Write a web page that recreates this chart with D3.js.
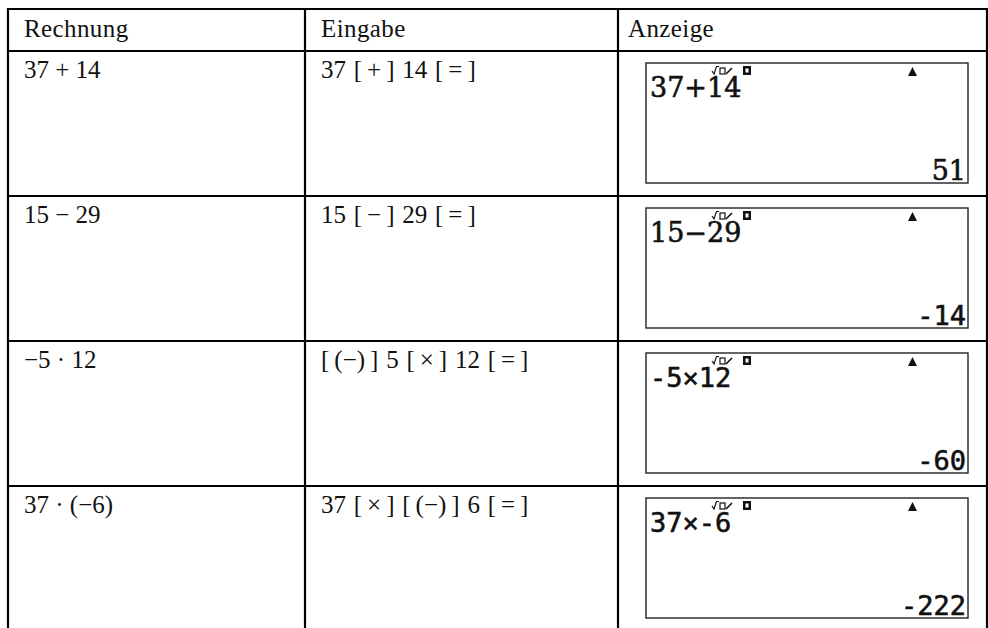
<!DOCTYPE html>
<html>
<head>
<meta charset="utf-8">
<script src="https://cdn.jsdelivr.net/npm/d3@7"></script>
<style>
  body { margin: 0; background: #fff; }
  svg { display: block; }
</style>
</head>
<body>
<svg id="chart"></svg>
<script>
// Table content
const headers = ["Rechnung", "Eingabe", "Anzeige"];
const rechnung = ["37 + 14", "15 − 29", "−5 · 12", "37 · (−6)"];
const eingabe = ["37 [+] 14 [=]", "15 [−] 29 [=]", "[(−)] 5 [×] 12 [=]", "37 [×] [(−)] 6 [=]"];
const anzeigeTerm = ["37+14", "15−29", "-5×12", "37×-6"];
const anzeigeErgebnis = ["51", "-14", "-60", "-222"];

// calculator font per row (screenshots differ a bit)
const termFont = ["DejaVu Serif", "DejaVu Serif", "DejaVu Sans Mono", "DejaVu Sans Mono"];
const resultFont = ["DejaVu Serif", "DejaVu Sans Mono", "DejaVu Sans Mono", "DejaVu Sans Mono"];

const W = 988, H = 628;
const colEdges = [8, 305, 618, 987];
const textPad = [16, 16, 10];
const tableTop = 9, headBottom = 51;

const svg = d3.select("#chart")
  .attr("width", W)
  .attr("height", H);

// row scale
const y = d3.scaleLinear()
  .domain([0, rechnung.length])
  .range([headBottom, headBottom + 145 * rechnung.length]);

const grid = svg.append("g")
  .attr("stroke", "#000")
  .attr("stroke-width", 2.2);

// horizontal lines
const hLines = [tableTop].concat(d3.range(rechnung.length).map(i => y(i)));
grid.selectAll(".h")
  .data(hLines)
  .enter()
  .append("line")
  .attr("x1", colEdges[0] - 1)
  .attr("x2", colEdges[3] + 1)
  .attr("y1", d => d)
  .attr("y2", d => d);

// vertical lines
grid.selectAll(".v")
  .data(colEdges)
  .enter()
  .append("line")
  .attr("x1", d => d)
  .attr("x2", d => d)
  .attr("y1", tableTop - 1)
  .attr("y2", H + 5);

const serif = "'Liberation Serif', 'Times New Roman', serif";

// header
svg.selectAll(".head")
  .data(headers)
  .enter()
  .append("text")
  .attr("x", (d, i) => colEdges[i] + textPad[i])
  .attr("y", tableTop + 28)
  .style("font-family", serif)
  .style("font-size", "25px")
  .style("letter-spacing", "0.4px")
  .style("fill", "#111")
  .text(d => d);

// Rechnung column
svg.selectAll(".rechnung")
  .data(rechnung)
  .enter()
  .append("text")
  .attr("x", colEdges[0] + textPad[0])
  .attr("y", (d, i) => y(i) + 27)
  .style("font-family", serif)
  .style("font-size", "25px")
  .style("fill", "#111")
  .text(d => d);

// Eingabe column, a little air inside the key brackets
svg.selectAll(".eingabe")
  .data(eingabe)
  .enter()
  .append("text")
  .attr("x", colEdges[1] + textPad[1])
  .attr("y", (d, i) => y(i) + 27)
  .style("font-family", serif)
  .style("font-size", "25px")
  .style("word-spacing", "1.5px")
  .style("fill", "#111")
  .style("white-space", "pre")
  .text(d => d.replace(/\[/g, "[\u2009").replace(/\]/g, "\u2009]"));

// calculator screens
const boxX = colEdges[2] + 28, boxW = 322, boxH = 120;

const screens = svg.selectAll(".screen")
  .data(anzeigeTerm)
  .enter()
  .append("g")
  .attr("class", "screen")
  .attr("transform", (d, i) => `translate(${boxX},${y(i) + 12})`);

screens.append("rect")
  .attr("width", boxW)
  .attr("height", boxH)
  .attr("fill", "#fff")
  .attr("stroke", "#222")
  .attr("stroke-width", 1.4);

screens.append("text")
  .attr("x", 4)
  .attr("y", 34)
  .style("font-family", (d, i) => termFont[i])
  .style("font-size", "27px")
  .style("fill", "#111")
  .style("stroke", "#111")
  .style("stroke-width", 0.6)
  .text(d => d);

screens.append("text")
  .attr("x", boxW - 2)
  .attr("y", boxH - 3)
  .attr("text-anchor", "end")
  .style("font-family", (d, i) => resultFont[i])
  .style("font-size", "27px")
  .style("fill", "#111")
  .style("stroke", "#111")
  .style("stroke-width", 0.6)
  .text((d, i) => anzeigeErgebnis[i]);

// status indicators: √□/ , D and the up arrow
screens.append("path")
  .attr("d", "M66,8 L68,11 L70.5,3.5 L73,3.5")
  .attr("fill", "none")
  .attr("stroke", "#111")
  .attr("stroke-width", 1.2);

screens.append("rect")
  .attr("x", 74)
  .attr("y", 5)
  .attr("width", 5)
  .attr("height", 6)
  .attr("fill", "none")
  .attr("stroke", "#111")
  .attr("stroke-width", 1.2);

screens.append("line")
  .attr("x1", 80)
  .attr("y1", 11)
  .attr("x2", 86)
  .attr("y2", 5)
  .attr("stroke", "#111")
  .attr("stroke-width", 1.6);

screens.append("rect")
  .attr("x", 97)
  .attr("y", 3)
  .attr("width", 8)
  .attr("height", 9)
  .attr("fill", "#111");

screens.append("rect")
  .attr("x", 99.5)
  .attr("y", 5.5)
  .attr("width", 3)
  .attr("height", 4)
  .attr("fill", "#fff");

screens.append("path")
  .attr("d", "M262,13 L271,13 L266.5,4 Z")
  .attr("fill", "#111");
</script>
</body>
</html>
